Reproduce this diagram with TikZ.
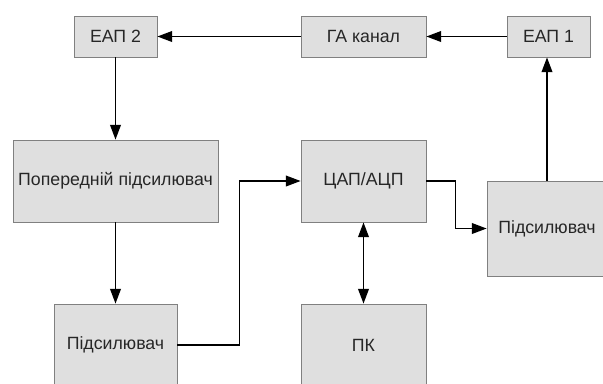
\documentclass[tikz,border=0pt]{standalone}
\usepackage{fontspec}
\setmainfont{Liberation Sans}
\usetikzlibrary{arrows.meta}
\begin{document}
\begin{tikzpicture}[x=0.75pt,y=-0.75pt,>={Triangle[length=11pt,width=8pt]},
    block/.style={draw=gray,line width=0.6pt,fill=gray!25,text=black!85,inner sep=0pt,
      font=\fontsize{13.3}{16}\selectfont},
    link/.style={black,line width=1.1pt}]
    \clip (0,0) rectangle (603,383);
    \node [block,minimum width=62.25pt,minimum height=30.75pt] (eap2) at (115.5,36.5) {ЕАП 2};
    \node [block,minimum width=93.75pt,minimum height=30.75pt] (ga) at (363.5,36.5) {ГА канал};
    \node [block,minimum width=62.25pt,minimum height=30.75pt] (eap1) at (548.5,36.5) {ЕАП 1};
    \node [block,minimum width=153.75pt,minimum height=61.5pt] (pre) at (115.5,181) {Попередній підсилювач};
    \node [block,minimum width=93.75pt,minimum height=61.5pt] (dac) at (363.5,181) {ЦАП/АЦП};
    \node [block,minimum width=90pt,minimum height=71.25pt] (ampr) at (547,228.5) {Підсилювач};
    \node [block,minimum width=92.25pt,minimum height=61.5pt] (ampl) at (115.5,345) {Підсилювач};
    \node [block,minimum width=93.75pt,minimum height=61.5pt] (pk) at (363.5,345) {ПК};
    \draw [link,->] (eap1) -- (ga);
    \draw [link,->] (ga) -- (eap2);
    \draw [link,->] (eap2) -- (pre);
    \draw [link,->] (pre) -- (ampl);
    \draw [link,->] (ampl.east) -- ++(62,0) |- (dac.west);
    \draw [link,->] (dac.east) -- ++(29,0) |- (ampr.west);
    \draw [link,->] (ampr.north) -- (ampr.north |- eap1.south);
    \draw [link,<->] (dac) -- (pk);
\end{tikzpicture}
\end{document}
